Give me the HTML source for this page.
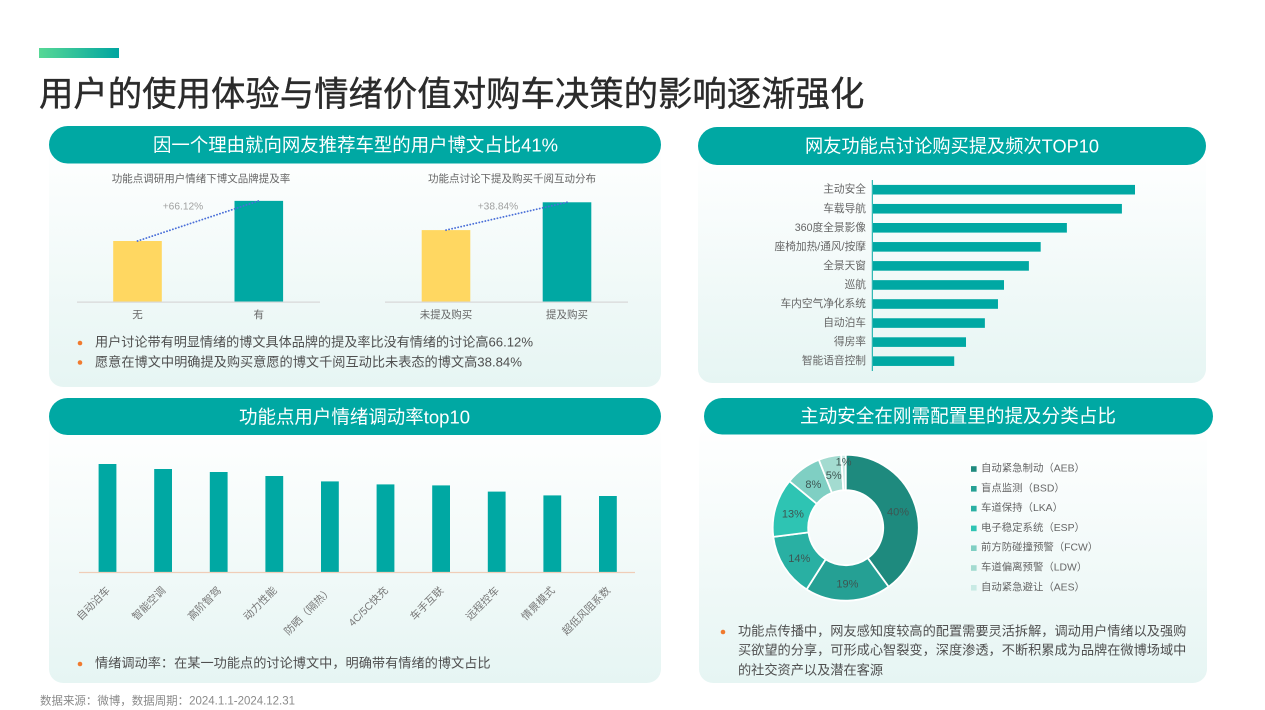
<!DOCTYPE html>
<html lang="zh-CN">
<head>
<meta charset="utf-8">
<title>用户的使用体验与情绪价值对购车决策的影响逐渐强化</title>
<style>
html,body{margin:0;padding:0;background:#fff;width:1265px;height:710px;overflow:hidden}
svg{display:block}
text{font-family:"Liberation Sans","Noto Sans CJK SC",sans-serif;dominant-baseline:central}
.pill{fill:#fff;font-size:18.6px;text-anchor:middle}
.sub{fill:#666;font-size:10.5px;text-anchor:middle}
.note{fill:#4f4f4f;font-size:13.2px}
.dot{fill:#f07a2e}
</style>
</head>
<body>
<svg id="page" xmlns="http://www.w3.org/2000/svg" width="1265" height="710" viewBox="0 0 1265 710">
<defs>
<linearGradient id="accent" x1="0" x2="1" y1="0" y2="0"><stop offset="0" stop-color="#57d896"/><stop offset="1" stop-color="#00a5a0"/></linearGradient>
<linearGradient id="panel" x1="0" x2="0" y1="0" y2="1"><stop offset="0" stop-color="#ffffff"/><stop offset="1" stop-color="#e6f5f3"/></linearGradient>
</defs>
<rect x="39" y="48" width="80" height="10" fill="url(#accent)"/>
<text x="39" y="95" font-size="34.4" fill="#2b2b2b" stroke="#2b2b2b" stroke-width="0.4">用户的使用体验与情绪价值对购车决策的影响逐渐强化</text>

<rect x="49" y="140" width="612" height="247" rx="14" fill="url(#panel)"/>
<rect x="698" y="150" width="508" height="233" rx="14" fill="url(#panel)"/>
<rect x="49" y="420" width="612" height="263" rx="14" fill="url(#panel)"/>
<rect x="699" y="425" width="508" height="258" rx="14" fill="url(#panel)"/>

<rect x="49" y="126" width="612" height="37.5" rx="18.7" fill="#00a8a3"/>
<text class="pill" x="355.5" y="145" textLength="405" lengthAdjust="spacingAndGlyphs">因一个理由就向网友推荐车型的用户博文占比41%</text>
<rect x="698" y="127" width="508" height="38" rx="19" fill="#00a8a3"/>
<text class="pill" x="952" y="146" textLength="294" lengthAdjust="spacingAndGlyphs">网友功能点讨论购买提及频次TOP10</text>
<rect x="49" y="398" width="612" height="37" rx="18.5" fill="#00a8a3"/>
<text class="pill" x="354.5" y="417" textLength="231" lengthAdjust="spacingAndGlyphs">功能点用户情绪调动率top10</text>
<rect x="704" y="398" width="509" height="36.5" rx="18.2" fill="#00a8a3"/>
<text class="pill" x="958" y="416" textLength="316" lengthAdjust="spacingAndGlyphs">主动安全在刚需配置里的提及分类占比</text>

<text class="sub" x="201" y="179">功能点调研用户情绪下博文品牌提及率</text>
<text class="sub" x="512" y="179">功能点讨论下提及购买千阅互动分布</text>
<g id="compareLeft"></g>
<g id="compareRight"></g>

<circle class="dot" cx="80" cy="343" r="2.3"/>
<text class="note" x="95" y="342" textLength="438" lengthAdjust="spacingAndGlyphs">用户讨论带有明显情绪的博文具体品牌的提及率比没有情绪的讨论高66.12%</text>
<circle class="dot" cx="80" cy="362.5" r="2.3"/>
<text class="note" x="95" y="362" textLength="427" lengthAdjust="spacingAndGlyphs">愿意在博文中明确提及购买意愿的博文千阅互动比未表态的博文高38.84%</text>

<g id="top10Chart"></g>
<g id="mobilizationChart"></g>

<circle class="dot" cx="80" cy="664" r="2.3"/>
<text class="note" x="95" y="663">情绪调动率：在某一功能点的讨论博文中，明确带有情绪的博文占比</text>

<g id="donutChart"></g>
<g id="donutLegend"></g>

<circle class="dot" cx="723" cy="632" r="2.3"/>
<text class="note" x="738" y="631">功能点传播中，网友感知度较高的配置需要灵活拆解，调动用户情绪以及强购</text>
<text class="note" x="738" y="650">买欲望的分享，可形成心智裂变，深度渗透，不断积累成为品牌在微博场域中</text>
<text class="note" x="738" y="670">的社交资产以及潜在客源</text>

<text x="40" y="701" font-size="11.6" fill="#8a8a8a" textLength="255" lengthAdjust="spacingAndGlyphs">数据来源：微博，数据周期：2024.1.1-2024.12.31</text>
</svg>
<script>
const leftCategories = ['无', '有'];
const leftValues = [100, 166.12];
const leftGrowthLabel = '+66.12%';
const rightCategories = ['未提及购买', '提及购买'];
const rightValues = [100, 138.84];
const rightGrowthLabel = '+38.84%';
const top10Categories = ['主动安全', '车载导航', '360度全景影像', '座椅加热/通风/按摩', '全景天窗', '巡航', '车内空气净化系统', '自动泊车', '得房率', '智能语音控制'];
const top10Values = [100, 95, 74, 64, 59.5, 50, 47.7, 42.7, 35.5, 31];
const mobilizationCategories = ['自动泊车', '智能空调', '高阶智驾', '动力性能', '防晒（隔热）', '4C/5C快充', '车手互联', '远程控车', '情景模式', '超低风阻系数'];
const mobilizationValues = [54, 51.5, 50, 48, 45.3, 43.8, 43.3, 40.2, 38.3, 38];
const donutCategories = ['自动紧急制动（AEB）', '盲点监测（BSD）', '车道保持（LKA）', '电子稳定系统（ESP）', '前方防碰撞预警（FCW）', '车道偏离预警（LDW）', '自动紧急避让（AES）'];
const donutValues = [40, 19, 14, 13, 8, 5, 1];
const donutColors = ['#1e8a7e', '#25a094', '#29b0a3', '#2ec4b3', '#7fcfc3', '#a3dbd0', '#c8eae4'];

const NS = 'http://www.w3.org/2000/svg';
function make(parent, tag, attrs, content) {
  const el = document.createElementNS(NS, tag);
  for (const k in attrs) el.setAttribute(k, attrs[k]);
  if (content !== undefined) el.textContent = content;
  parent.appendChild(el);
  return el;
}

function drawCompare(id, categories, values, growth, frame) {
  const g = document.getElementById(id);
  const xCenter = i => frame.x0 + i * frame.step;
  const yValue = v => frame.base - v * frame.unit;
  const colors = ['#ffd761', '#00a8a3'];
  values.forEach((v, i) => {
    const bar = make(g, 'rect', {x: xCenter(i) - 24.3, y: yValue(v), width: 48.6, height: frame.base - yValue(v), fill: colors[i % 2]});
    
    
    const label = make(g, 'text', {x: xCenter(i), y: 315, 'font-size': 10.5, fill: '#666', 'text-anchor': 'middle'}, categories[i]);
    
    
  });
  const axis = make(g, 'line', {x1: frame.axis0, x2: frame.axis0 + 243, y1: frame.base + .4, y2: frame.base + .4, stroke: '#d8d8d8', 'stroke-width': 1.2});
  
  
  const trend = make(g, 'line', {x1: xCenter(0), y1: yValue(values[0]), x2: xCenter(1), y2: yValue(values[1]), stroke: '#4a6fd8', 'stroke-width': 1.8, 'stroke-dasharray': '0.1 3', 'stroke-linecap': 'round'});
  
  
  const tag = make(g, 'text', {x: frame.labelX, y: 207, 'font-size': 10.2, fill: '#a0a0a0', 'text-anchor': 'middle'}, growth);
  
  
}
drawCompare('compareLeft', leftCategories, leftValues, leftGrowthLabel, {x0: 137.5, step: 121.3, base: 301.7, unit: 0.607, axis0: 77, labelX: 183});
drawCompare('compareRight', rightCategories, rightValues, rightGrowthLabel, {x0: 446, step: 121, base: 301.7, unit: 0.716, axis0: 385, labelX: 498});

(function () {
  const g = document.getElementById('top10Chart');
  const xWidth = v => v * 2.62;
  const yCenter = i => 189.7 + i * 19.05;
  top10Values.forEach((v, i) => {
    const bar = make(g, 'rect', {x: 873, y: yCenter(i) - 4.8, width: xWidth(v), height: 9.6, fill: '#00a8a3'});
    
    
    const label = make(g, 'text', {x: 866, y: yCenter(i), 'font-size': 10.7, fill: '#666', 'text-anchor': 'end'}, top10Categories[i]);
    
    
  });
  const axis = make(g, 'line', {x1: 872.3, x2: 872.3, y1: 180, y2: 371, stroke: '#00a8a3', 'stroke-width': 1});
  
  
})();

(function () {
  const g = document.getElementById('mobilizationChart');
  const base = 572;
  const xCenter = i => 107.5 + i * 55.6;
  const yValue = v => base - v * 2;
  mobilizationValues.forEach((v, i) => {
    const bar = make(g, 'rect', {x: xCenter(i) - 8.9, y: yValue(v), width: 17.8, height: base - yValue(v), fill: '#00a8a3'});
    
    
    const label = make(g, 'text', {x: 0, y: 0, 'font-size': 10.5, fill: '#777', 'text-anchor': 'end', transform: 'translate(' + (xCenter(i) + 1) + ' 589) rotate(-45)'}, mobilizationCategories[i]);
    
    
  });
  const axis = make(g, 'line', {x1: 79, x2: 635, y1: 572.5, y2: 572.5, stroke: '#f0cdb8', 'stroke-width': 1.2});
  
  
})();

(function () {
  const g = document.getElementById('donutChart');
  const cx = 845.7, cy = 527.7, R = 73, r = 37.5;
  const total = donutValues.reduce((a, b) => a + b, 0);
  const pt = (rad, a) => [cx + Math.sin(a) * rad, cy - Math.cos(a) * rad];
  let acc = 0;
  donutValues.forEach((v, i) => {
    const a0 = acc / total * Math.PI * 2;
    acc += v;
    const a1 = acc / total * Math.PI * 2;
    const large = a1 - a0 > Math.PI ? 1 : 0;
    const p0 = pt(R, a0), p1 = pt(R, a1), p2 = pt(r, a1), p3 = pt(r, a0);
    const slice = make(g, 'path', {d: 'M' + p0 + 'A' + R + ' ' + R + ' 0 ' + large + ' 1 ' + p1 + 'L' + p2 + 'A' + r + ' ' + r + ' 0 ' + large + ' 0 ' + p3 + 'Z', fill: donutColors[i], stroke: '#fff', 'stroke-width': 1.8});
    
    
  });
  acc = 0;
  donutValues.forEach(v => {
    const mid = (acc + v / 2) / total * Math.PI * 2;
    acc += v;
    const p = pt(v <= 1 ? 67 : 55, mid);
    const t = make(g, 'text', {x: p[0], y: p[1] + 2, 'font-size': 11, fill: '#3d5652', 'text-anchor': 'middle'}, v + '%');
    
    
  });
  const lg = document.getElementById('donutLegend');
  donutCategories.forEach((c, i) => {
    const y = 469 + i * 19.8;
    const sw = make(lg, 'rect', {x: 971, y: y - 2.8, width: 5.6, height: 5.6, fill: donutColors[i]});
    
    
    const t = make(lg, 'text', {x: 981, y: y, 'font-size': 10.4, fill: '#666'}, c);
    
    
  });
})();
</script>
</body>
</html>
